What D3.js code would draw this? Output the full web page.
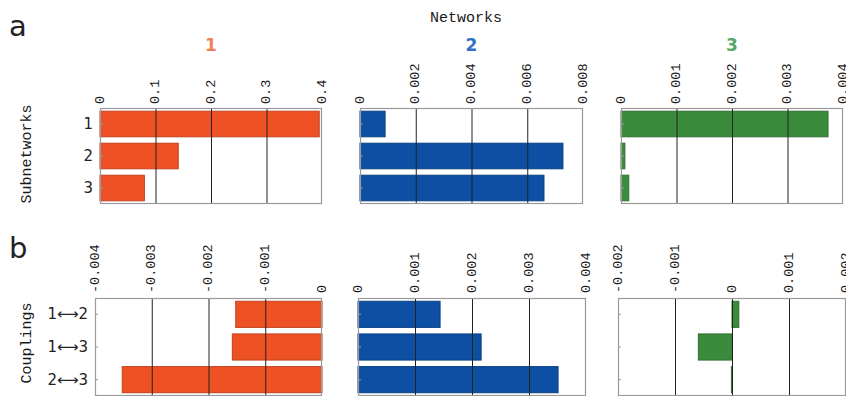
<!DOCTYPE html>
<html>
<head>
<meta charset="utf-8">
<script src="https://cdn.jsdelivr.net/npm/d3@7"></script>
<style>
  html, body { margin: 0; padding: 0; background: #fff; }
  svg { display: block; }
</style>
</head>
<body>
<svg id="chart" width="846" height="396"></svg>
<script>
// Network labels and colours
const networks = ["1", "2", "3"];
const networkColors = ["#ee5224", "#0c4fa3", "#3b8b3c"];
const networkTitleColors = ["#f47f55", "#2f6fc4", "#55a868"];

// Row categories
const subnetworks = ["1", "2", "3"];
const couplings = ["1\u27F72", "1\u27F73", "2\u27F73"];

// Panel a: subnetwork values per network
const subnetValues1 = [0.395, 0.141, 0.080];
const subnetValues2 = [0.0009, 0.00728, 0.0066];
const subnetValues3 = [0.00373, 0.00007, 0.00014];

// Panel b: coupling values per network
const couplingValues1 = [-0.00152, -0.00158, -0.00352];
const couplingValues2 = [0.00144, 0.00216, 0.00351];
const couplingValues3 = [0.00012, -0.00059, -0.00001];

// Axis ticks per panel
const subnetTicks1 = [0, 0.1, 0.2, 0.3, 0.4];
const subnetTicks2 = [0, 0.002, 0.004, 0.006, 0.008];
const subnetTicks3 = [0, 0.001, 0.002, 0.003, 0.004];
const couplingTicks1 = [-0.004, -0.003, -0.002, -0.001, 0];
const couplingTicks2 = [0, 0.001, 0.002, 0.003, 0.004];
const couplingTicks3 = [-0.002, -0.001, 0, 0.001, 0.002];

const svg = d3.select("#chart");
const mono = "'Liberation Mono', 'Courier New', monospace";
const sans = "'DejaVu Sans', 'Liberation Sans', sans-serif";

// Panel geometry (x ranges for each column, y ranges per row)
const colsA = [[100, 322], [360, 583], [621, 843]];
const colsB = [[95, 322], [358, 586], [618, 846]];
const rowA = [108, 204];
const rowB = [298, 396];

function drawPanel(x0, x1, y0, y1, ticks, cats, values, color, showCatLabels, labelGap) {
  const g = svg.append("g");
  const x = d3.scaleLinear().domain([ticks[0], ticks[ticks.length - 1]]).range([x0, x1]);
  const y = d3.scaleBand().domain(cats).range([y0, y1]).paddingInner(0.2).paddingOuter(0.1);

  // plot background
  g.append("rect")
    .attr("x", x0).attr("y", y0).attr("width", x1 - x0).attr("height", y1 - y0)
    .attr("fill", "#fff");

  // bars
  g.selectAll("rect.bar").data(values).join("rect")
    .attr("class", "bar")
    .attr("x", d => x(Math.min(0, d)))
    .attr("width", d => Math.max(0.8, Math.abs(x(d) - x(0))))
    .attr("y", (d, i) => y(cats[i]))
    .attr("height", y.bandwidth())
    .attr("fill", color)
    .attr("stroke", d3.color(color).darker(0.6))
    .attr("stroke-width", 1);

  // vertical grid lines over bars
  g.selectAll("line.grid").data(ticks.slice(1, -1)).join("line")
    .attr("class", "grid")
    .attr("x1", d => x(d) + 0.5).attr("x2", d => x(d) + 0.5)
    .attr("y1", y0).attr("y2", y1)
    .attr("stroke", "#222").attr("stroke-width", 1);

  // frame
  g.append("rect")
    .attr("x", x0 + 0.5).attr("y", y0 + 0.5).attr("width", x1 - x0 - 1).attr("height", y1 - y0 - 1)
    .attr("fill", "none").attr("stroke", "#9a9a9a").attr("stroke-width", 1.2);

  // small category ticks on the left edge
  g.selectAll("line.ytick").data(cats).join("line")
    .attr("class", "ytick")
    .attr("x1", x0).attr("x2", x0 + 3)
    .attr("y1", d => y(d) + y.bandwidth() / 2).attr("y2", d => y(d) + y.bandwidth() / 2)
    .attr("stroke", "#9a9a9a");

  // rotated tick labels above the frame
  g.selectAll("text.xlab").data(ticks).join("text")
    .attr("class", "xlab")
    .attr("transform", d => `translate(${x(d)},${y0 - labelGap}) rotate(-90)`)
    .attr("text-anchor", "start")
    .attr("dominant-baseline", "central")
    .attr("font-family", mono)
    .attr("font-size", 13.5)
    .attr("fill", "#1a1a1a")
    .text(d => String(d));

  if (showCatLabels) {
    g.selectAll("text.ylab").data(cats).join("text")
      .attr("class", "ylab")
      .attr("x", x0 - 7)
      .attr("y", d => y(d) + y.bandwidth() / 2)
      .attr("text-anchor", "end")
      .attr("dominant-baseline", "central")
      .attr("font-family", sans)
      .attr("font-size", 15)
      .attr("fill", "#222")
      .text(d => d);
  }
}

const subnetVals = [subnetValues1, subnetValues2, subnetValues3];
const subnetTks = [subnetTicks1, subnetTicks2, subnetTicks3];
const coupVals = [couplingValues1, couplingValues2, couplingValues3];
const coupTks = [couplingTicks1, couplingTicks2, couplingTicks3];

networks.forEach((n, i) => {
  drawPanel(colsA[i][0], colsA[i][1], rowA[0], rowA[1], subnetTks[i], subnetworks, subnetVals[i], networkColors[i], i === 0, 4);
  drawPanel(colsB[i][0], colsB[i][1], rowB[0], rowB[1], coupTks[i], couplings, coupVals[i], networkColors[i], i === 0, 5);

  // network number above each column
  svg.append("text")
    .attr("x", (colsA[i][0] + colsA[i][1]) / 2)
    .attr("y", 51)
    .attr("text-anchor", "middle")
    .attr("font-family", sans)
    .attr("font-weight", "bold")
    .attr("font-size", 17)
    .attr("fill", networkTitleColors[i])
    .text(n);
});

// column header
svg.append("text")
  .attr("x", 466).attr("y", 22)
  .attr("text-anchor", "middle")
  .attr("font-family", mono)
  .attr("font-size", 15)
  .attr("fill", "#1a1a1a")
  .text("Networks");

// row titles
[["Subnetworks", (rowA[0] + rowA[1]) / 2 - 2], ["Couplings", 343]].forEach(([t, cy]) => {
  svg.append("text")
    .attr("transform", `translate(27,${cy}) rotate(-90)`)
    .attr("text-anchor", "middle")
    .attr("dominant-baseline", "central")
    .attr("font-family", mono)
    .attr("font-size", 15)
    .attr("fill", "#1a1a1a")
    .text(t);
});

// panel letters
[["a", 36], ["b", 258]].forEach(([t, yy]) => {
  svg.append("text")
    .attr("x", 9).attr("y", yy)
    .attr("font-family", sans)
    .attr("font-size", 29)
    .attr("fill", "#222")
    .text(t);
});
</script>
</body>
</html>
